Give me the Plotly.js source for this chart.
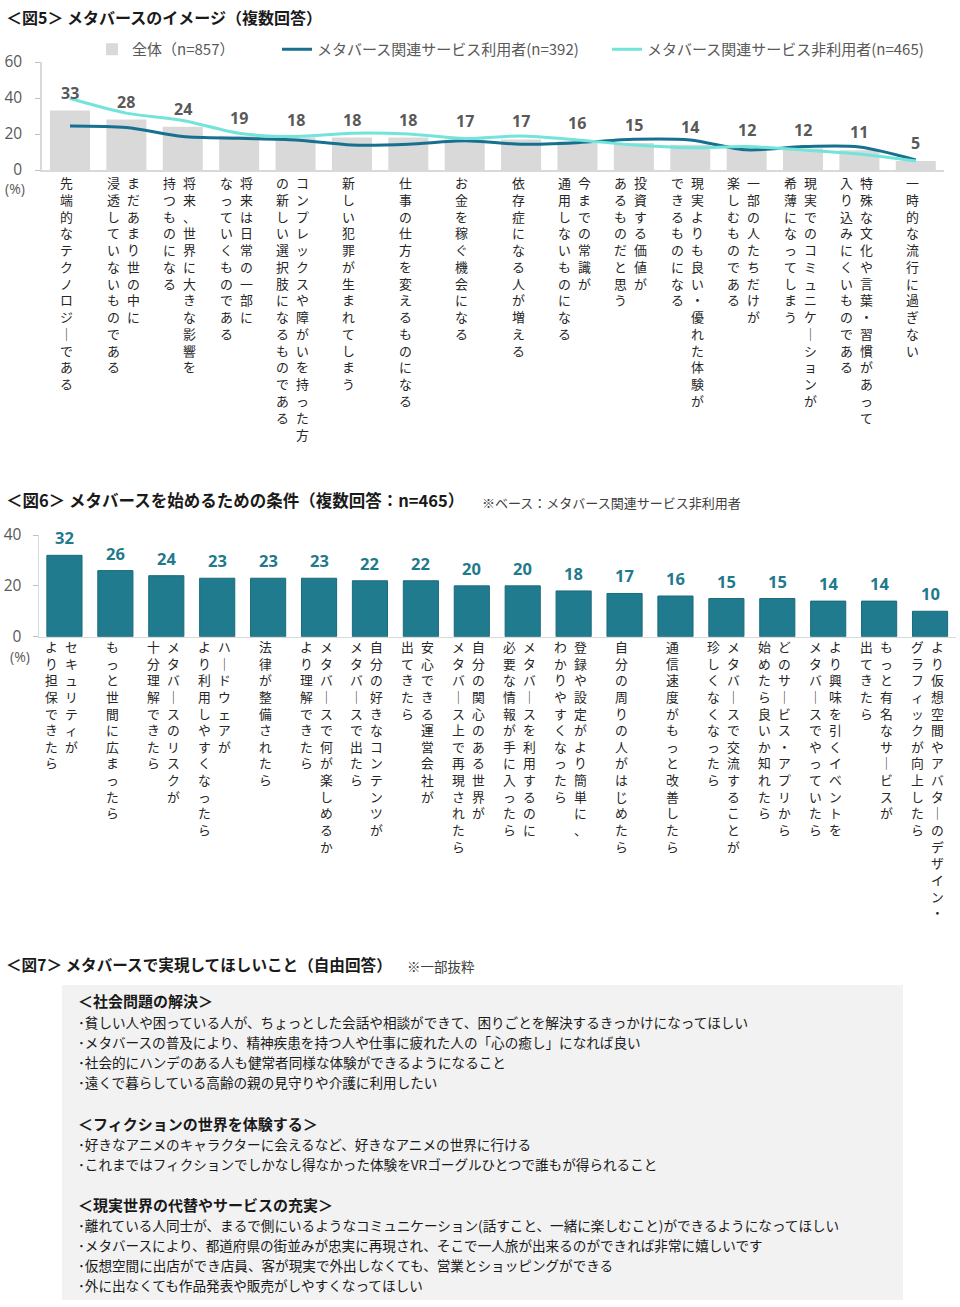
<!DOCTYPE html>
<html><head><meta charset="utf-8">
<script src="https://cdn.plot.ly/plotly-3.0.1.min.js"></script>
<style>html,body{margin:0;padding:0;background:#fff}#chart{width:960px;height:1307px}</style>
</head><body><div id="chart"></div>
<script>
// ---------- DATA ----------
const fig5Labels = [
  "先端的なテクノロジーである",
  "まだあまり世の中に\n浸透していないものである",
  "将来、世界に大きな影響を\n持つものになる",
  "将来は日常の一部に\nなっていくものである",
  "コンプレックスや障がいを持った方\nの新しい選択肢になるものである",
  "新しい犯罪が生まれてしまう",
  "仕事の仕方を変えるものになる",
  "お金を稼ぐ機会になる",
  "依存症になる人が増える",
  "今までの常識が\n通用しないものになる",
  "投資する価値が\nあるものだと思う",
  "現実よりも良い・優れた体験が\nできるものになる",
  "一部の人たちだけが\n楽しむものである",
  "現実でのコミュニケーションが\n希薄になってしまう",
  "特殊な文化や言葉・習慣があって\n入り込みにくいものである",
  "一時的な流行に過ぎない"
];
const fig5All      = [33, 28, 24, 19, 18, 18, 18, 17, 17, 16, 15, 14, 12, 12, 11, 5];
const fig5Users    = [24.5, 23.6, 18.6, 17.6, 16.7, 13.9, 14.3, 16.2, 14.3, 15.2, 17.1, 16.7, 11.2, 13.0, 12.8, 5.6];
const fig5NonUsers = [39.7, 31.6, 27.5, 20.4, 18.6, 20.4, 20.0, 17.5, 18.9, 16.7, 13.9, 12.4, 13.0, 11.1, 8.9, 5.0];
const fig5SeriesNames = ["全体（n=857）", "メタバース関連サービス利用者(n=392)", "メタバース関連サービス非利用者(n=465)"];
const fig5Ticks = [0, 20, 40, 60];

const fig6Labels = [
  "セキュリティが\nより担保できたら",
  "もっと世間に広まったら",
  "メタバースのリスクが\n十分理解できたら",
  "ハードウェアが\nより利用しやすくなったら",
  "法律が整備されたら",
  "メタバースで何が楽しめるか\nより理解できたら",
  "自分の好きなコンテンツが\nメタバースで出たら",
  "安心できる運営会社が\n出てきたら",
  "自分の関心のある世界が\nメタバース上で再現されたら",
  "メタバースを利用するのに\n必要な情報が手に入ったら",
  "登録や設定がより簡単に、\nわかりやすくなったら",
  "自分の周りの人がはじめたら",
  "通信速度がもっと改善したら",
  "メタバースで交流することが\n珍しくなくなったら",
  "どのサービス・アプリから\n始めたら良いか知れたら",
  "より興味を引くイベントを\nメタバースでやっていたら",
  "もっと有名なサービスが\n出てきたら",
  "より仮想空間やアバターのデザイン・\nグラフィックが向上したら"
];
const fig6Values = [32, 26, 24, 23, 23, 23, 22, 22, 20, 20, 18, 17, 16, 15, 15, 14, 14, 10];
const fig6Ticks = [0, 20, 40];

const titles = {
  fig5: "<b>＜図5＞ メタバースのイメージ（複数回答）</b>",
  fig6: "<b>＜図6＞ メタバースを始めるための条件（複数回答：n=465）</b>",
  fig6note: "※ベース：メタバース関連サービス非利用者",
  fig7: "<b>＜図7＞ メタバースで実現してほしいこと（自由回答）</b>",
  fig7note: "※一部抜粋",
  unit: "(%)"
};
const fig7Headings = ["＜社会問題の解決＞", "＜フィクションの世界を体験する＞", "＜現実世界の代替やサービスの充実＞"];
const fig7Items = [
  ["･貧しい人や困っている人が、ちょっとした会話や相談ができて、困りごとを解決するきっかけになってほしい",
   "･メタバースの普及により、精神疾患を持つ人や仕事に疲れた人の「心の癒し」になれば良い",
   "･社会的にハンデのある人も健常者同様な体験ができるようになること",
   "･遠くで暮らしている高齢の親の見守りや介護に利用したい"],
  ["･好きなアニメのキャラクターに会えるなど、好きなアニメの世界に行ける",
   "･これまではフィクションでしかなし得なかった体験をVRゴーグルひとつで誰もが得られること"],
  ["･離れている人同士が、まるで側にいるようなコミュニケーション(話すこと、一緒に楽しむこと)ができるようになってほしい",
   "･メタバースにより、都道府県の街並みが忠実に再現され、そこで一人旅が出来るのができれば非常に嬉しいです",
   "･仮想空間に出店ができ店員、客が現実で外出しなくても、営業とショッピングができる",
   "･外に出なくても作品発表や販売がしやすくなってほしい"]
];

// ---------- LAYOUT HELPERS ----------
const W = 960, H = 1307;
const FONT = '"Noto Sans CJK JP", "Noto Sans", sans-serif';
const NUMFONT = '"Open Sans", "Noto Sans", sans-serif';
const py = p => 1 - p / H;
const pxx = p => p / W;

const C_GRAY = '#d9d9d9', C_DARK = '#17708f', C_LIGHT = '#72e4da', C_BAR6 = '#217b8f';

const traces = [
  {type: 'bar', x: fig5Labels, y: fig5All, name: fig5SeriesNames[0], marker: {color: C_GRAY}, width: 0.71,
   xaxis: 'x', yaxis: 'y', hoverinfo: 'skip', legend: 'legend'},
  {type: 'scatter', mode: 'lines', x: fig5Labels, y: fig5Users, name: fig5SeriesNames[1],
   line: {color: C_DARK, width: 3, shape: 'spline', smoothing: 0.8}, xaxis: 'x', yaxis: 'y', hoverinfo: 'skip', legend: 'legend2'},
  {type: 'scatter', mode: 'lines', x: fig5Labels, y: fig5NonUsers, name: fig5SeriesNames[2],
   line: {color: C_LIGHT, width: 3, shape: 'spline', smoothing: 0.8}, xaxis: 'x', yaxis: 'y', hoverinfo: 'skip', legend: 'legend3'},
  {type: 'bar', x: fig6Labels, y: fig6Values, name: 'fig6', showlegend: false,
   marker: {color: C_BAR6, line: {color: '#1a6a7c', width: 1}}, width: 0.69,
   xaxis: 'x2', yaxis: 'y2', hoverinfo: 'skip'}
];

const ann = [];
const addText = (o) => ann.push(Object.assign({showarrow: false}, o));

// titles
addText({xref: 'paper', yref: 'paper', x: pxx(4), y: py(17), xanchor: 'left', yanchor: 'middle',
  text: titles.fig5, font: {family: FONT, size: 16, color: '#1a1a1a'}});
addText({xref: 'paper', yref: 'paper', x: pxx(4), y: py(500), xanchor: 'left', yanchor: 'middle',
  text: titles.fig6, font: {family: FONT, size: 16.5, color: '#1a1a1a'}});
addText({xref: 'paper', yref: 'paper', x: pxx(480), y: py(502), xanchor: 'left', yanchor: 'middle',
  text: titles.fig6note, font: {family: FONT, size: 13, color: '#404040'}});
addText({xref: 'paper', yref: 'paper', x: pxx(4), y: py(964), xanchor: 'left', yanchor: 'middle',
  text: titles.fig7, font: {family: FONT, size: 15.6, color: '#1a1a1a'}});
addText({xref: 'paper', yref: 'paper', x: pxx(405), y: py(966), xanchor: 'left', yanchor: 'middle',
  text: titles.fig7note, font: {family: FONT, size: 13.5, color: '#404040'}});
// (%) units
addText({xref: 'paper', yref: 'paper', x: pxx(15), y: py(189), xanchor: 'center', yanchor: 'middle',
  text: titles.unit, font: {family: NUMFONT, size: 14, color: '#595959'}});
addText({xref: 'paper', yref: 'paper', x: pxx(20), y: py(656), xanchor: 'center', yanchor: 'middle',
  text: titles.unit, font: {family: NUMFONT, size: 14, color: '#595959'}});

// value labels
fig5All.forEach((v, i) => addText({xref: 'x', yref: 'y', x: i, y: v, yshift: 18, xanchor: 'center', yanchor: 'middle',
  text: '<b>' + Math.round(v) + '</b>', font: {family: NUMFONT, size: 16, color: '#595959'}}));
fig6Values.forEach((v, i) => addText({xref: 'x2', yref: 'y2', x: i, y: v, yshift: 17.5, xanchor: 'center', yanchor: 'middle',
  text: '<b>' + Math.round(v) + '</b>', font: {family: NUMFONT, size: 16.5, color: '#1f7a8c'}}));

// vertical category labels: one text column per line, characters stacked top-to-bottom, columns right-to-left
function vertical(labels, xref, topPx, size) {
  labels.forEach((lab, i) => {
    const cols = lab.split('\n');
    const offs = cols.length === 1 ? [-3] : [7, -13];
    cols.forEach((col, c) => {
      const txt = Array.from(col).map(ch => ch === 'ー' ? '｜' : ch).join('<br>');
      addText({xref: xref, yref: 'paper', x: i, y: py(topPx), xshift: offs[c],
        xanchor: 'center', yanchor: 'top', align: 'center', borderpad: 0,
        text: txt, font: {family: FONT, size: size, color: '#262626'}});
    });
  });
}
vertical(fig5Labels, 'x', 172, 12.9);
vertical(fig6Labels, 'x2', 636, 12.8);

// figure 7 box text
const shapes = [{type: 'rect', xref: 'paper', yref: 'paper', x0: pxx(62), x1: pxx(903), y0: py(1300), y1: py(985),
  fillcolor: '#f2f2f2', line: {width: 0}, layer: 'below'}];
const sectionStart = [1001, 1123, 1204];
fig7Headings.forEach((h, s) => {
  addText({xref: 'paper', yref: 'paper', x: pxx(76), y: py(sectionStart[s]), xanchor: 'left', yanchor: 'middle',
    text: '<b>' + h + '</b>', font: {family: FONT, size: 15, color: '#1a1a1a'}});
  fig7Items[s].forEach((t, j) => addText({xref: 'paper', yref: 'paper', x: pxx(76), y: py(sectionStart[s] + 21 + j * 20),
    xanchor: 'left', yanchor: 'middle', text: t, font: {family: FONT, size: 13.6, color: '#1a1a1a'}}));
});

const legendBase = {orientation: 'h', xanchor: 'left', yanchor: 'top', y: py(33),
  font: {family: FONT, size: 15, color: '#595959'}, bgcolor: 'rgba(0,0,0,0)'};
const axisCommon = {showgrid: false, zeroline: false, fixedrange: true};
const layout = {
  width: W, height: H, margin: {l: 0, r: 0, t: 0, b: 0},
  paper_bgcolor: '#fff', plot_bgcolor: 'rgba(0,0,0,0)',
  font: {family: FONT},
  showlegend: true,
  legend: Object.assign({}, legendBase, {x: pxx(92)}),
  legend2: Object.assign({}, legendBase, {x: pxx(277)}),
  legend3: Object.assign({}, legendBase, {x: pxx(607)}),
  xaxis: Object.assign({}, axisCommon, {domain: [pxx(41.8), pxx(944)], type: 'category', range: [-0.5, fig5Labels.length - 0.5],
    showticklabels: false, ticks: '', showline: true, linecolor: C_GRAY, linewidth: 1.5, anchor: 'y'}),
  yaxis: Object.assign({}, axisCommon, {domain: [py(170), py(62)], range: [0, 60], tickvals: fig5Ticks,
    showline: true, linecolor: C_GRAY, linewidth: 1.5, ticks: 'outside', ticklen: 5, tickcolor: '#bfbfbf',
    ticklabelstandoff: 10, tickfont: {family: NUMFONT, size: 15.5, color: '#595959'}, anchor: 'x'}),
  xaxis2: Object.assign({}, axisCommon, {domain: [pxx(39), pxx(955.5)], type: 'category', range: [-0.5, fig6Labels.length - 0.5],
    showticklabels: false, ticks: '', showline: true, linecolor: C_GRAY, linewidth: 1.5, anchor: 'y2'}),
  yaxis2: Object.assign({}, axisCommon, {domain: [py(636.7), py(535)], range: [0, 40], tickvals: fig6Ticks,
    showline: true, linecolor: C_GRAY, linewidth: 1.5, ticks: 'outside', ticklen: 5, tickcolor: '#bfbfbf',
    ticklabelstandoff: 8, tickfont: {family: NUMFONT, size: 15.5, color: '#595959'}, anchor: 'x2'}),
  annotations: ann,
  shapes: shapes
};
Plotly.newPlot('chart', traces, layout, {displayModeBar: false, staticPlot: true});
</script></body></html>
